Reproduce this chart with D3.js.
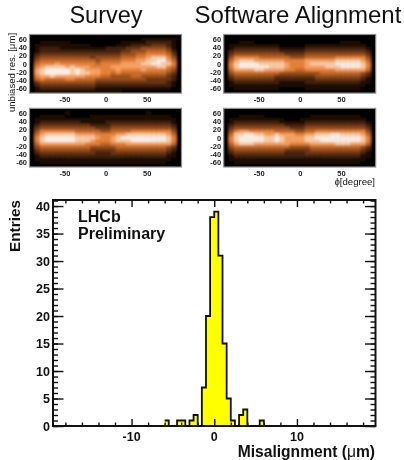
<!DOCTYPE html>
<html>
<head>
<meta charset="utf-8">
<script src="https://cdn.jsdelivr.net/npm/d3@7/dist/d3.min.js"></script>
<style>
  html, body { margin: 0; padding: 0; background: #fff; }
  svg { display: block; opacity: 0.999; }
  text { font-family: "Liberation Sans", Arial, sans-serif; fill: #111; }
</style>
</head>
<body>
<script>
// histogram
const binEdges = [-6, -5.5, -5, -4.5, -4, -3.5, -3, -2.5, -2, -1.5, -1, -0.5, 0, 0.5, 1, 1.5, 2, 2.5, 3, 3.5, 4, 4.5, 5, 5.5, 6];
const binCounts = [1, 0, 0, 1, 1, 0, 1, 2, 0, 7, 20, 38, 39, 31, 15, 5, 1, 0, 2, 3, 0, 0, 0, 1];

const yMajor = [0, 5, 10, 15, 20, 25, 30, 35, 40];
const yMinor = d3.range(0, 42);
const xMajor = [-10, 0, 10];
const xMinor = [-18, -16, -14, -12, -8, -6, -4, -2, 2, 4, 6, 8, 12, 14, 16, 18];

// heat maps: one digit per cell, 0 dark to 9 white, top row first
const surveyTop = [
  "00000 00000 00000 00000 00000 00000",
  "00000 00000 00000 00000 00111 11110",
  "00111 11100 00000 00011 11122 22210",
  "01111 11111 11000 00111 22223 33210",
  "01222 21111 11111 22223 33444 44310",
  "01222 22222 22222 22233 44455 55420",
  "02333 33333 33333 33344 45566 66530",
  "03444 44444 44344 44455 56678 88640",
  "04555 55555 55545 55566 67788 99750",
  "05666 76666 66656 66677 77889 98860",
  "06788 88787 77666 67777 77777 88650",
  "07899 99989 87776 66766 66766 66540",
  "07899 99989 88776 65655 55555 55430",
  "06778 77777 76665 54444 55444 44320",
  "05655 55665 55544 44444 44433 33320",
  "03444 44444 44433 33333 33333 33210",
  "02333 33333 33322 22222 22222 22210",
  "01222 22222 22211 11111 11111 11100",
  "01111 11111 11111 11100 00000 00000"
];
const surveyBottom = [
  "00000 00000 00000 00000 00000 00000",
  "00000 00100 00000 00000 00010 00000",
  "00111 11000 00111 11111 11111 11100",
  "01111 11111 11111 11111 11111 11110",
  "01222 22222 11111 22222 22222 22210",
  "02333 33333 33222 23333 33333 33320",
  "03444 44444 44433 34444 44444 44430",
  "04666 66665 55554 45555 66666 66640",
  "05788 88887 77766 66778 88888 88750",
  "06899 99998 88876 67899 99999 99860",
  "06899 99998 88766 67888 99999 99860",
  "05777 77777 76665 56667 77777 77750",
  "04555 55555 55444 44555 55555 55430",
  "03444 44444 44333 33444 44444 44320",
  "02333 33333 33322 23333 33333 33210",
  "01222 22222 22222 22222 22222 22110",
  "01111 11111 11111 11111 11111 11100",
  "00111 11111 11111 11111 11111 11000",
  "00000 00000 00000 00000 00000 00000"
];
const softwareTop = [
  "00000 00000 00000 00000 00000 00000",
  "00000 00000 00000 00000 00000 00000",
  "00011 10000 00000 00000 00011 11000",
  "01111 11111 10000 01111 11111 11100",
  "01222 22222 21111 12222 22222 22210",
  "02333 33333 32222 23333 33333 33320",
  "03444 44444 44333 34444 44444 44430",
  "04666 66555 55544 45555 55666 66640",
  "05788 87777 77666 67777 77888 88750",
  "06899 99888 88766 67888 88999 99860",
  "06899 99998 88766 67777 88899 99860",
  "05777 78877 77665 56666 66777 77750",
  "04555 55555 54444 44445 55555 55430",
  "03444 44444 33333 33344 44444 44320",
  "02333 33333 22222 22233 33333 33210",
  "01222 22222 21111 12222 22222 22110",
  "01111 11111 11111 11111 11111 11100",
  "00111 11111 10000 01111 11111 11000",
  "00000 00000 00000 00000 00000 00000"
];
const softwareBottom = [
  "00000 00000 00000 00000 00000 00000",
  "00000 00000 00000 00000 00000 00000",
  "00011 11100 00000 00111 11111 11000",
  "01111 11111 11000 11111 11111 11100",
  "01222 22222 21111 12222 22222 22210",
  "02333 33333 33222 23333 33333 33320",
  "03444 44444 44433 34444 44444 44430",
  "04677 66666 55554 45566 66666 66640",
  "05889 98877 87776 67788 89988 88750",
  "06899 99988 98777 78899 99999 99860",
  "06899 99988 98777 78889 99999 99860",
  "05788 87777 77766 66777 77888 77750",
  "04555 55555 55544 44555 55555 55430",
  "03444 44444 44333 33444 44444 44320",
  "02333 33333 33222 23333 33333 33210",
  "01222 22222 22222 22222 22222 22110",
  "01111 11111 11111 11111 11111 11100",
  "00111 11111 11111 11111 11111 11000",
  "00000 00000 00000 00000 00000 00000"
];

const phiTicks = [-50, 0, 50];
const resTicks = [60, 40, 20, 0, -20, -40, -60];
const heatColors = ["#060100", "#1e0e04", "#40200c", "#6b3614", "#99501e", "#c76a2a", "#ea843a", "#f9a566", "#fdd0ac", "#fff2e8"];

const panels = [
  { id: "a", cells: surveyTop, x0: 29.5, y0: 34.5 },
  { id: "b", cells: softwareTop, x0: 223.7, y0: 34.5 },
  { id: "c", cells: surveyBottom, x0: 29.5, y0: 108.4 },
  { id: "d", cells: softwareBottom, x0: 223.7, y0: 108.4 }
];
const panelW = 152;
const panelH = 58.6;

const svg = d3.select("body").append("svg")
  .attr("width", 404)
  .attr("height", 460);

const defs = svg.append("defs");
defs.append("filter")
  .attr("id", "soft")
  .attr("x", "-5%").attr("y", "-5%").attr("width", "110%").attr("height", "110%")
  .append("feGaussianBlur")
  .attr("stdDeviation", 0.8);

const heatScale = d3.scaleLinear().domain(d3.range(10)).range(heatColors);

panels.forEach(p => {
  const rows = p.cells.map(r => r.replace(/ /g, "").split("").map(Number));
  const xBand = d3.scaleBand().domain(d3.range(rows[0].length)).range([0, panelW]);
  const yBand = d3.scaleBand().domain(d3.range(rows.length)).range([0, panelH]);
  const phi = d3.scaleLinear().domain([-92.5, 92.3]).range([0, panelW]);
  const res = d3.scaleLinear().domain([-71, 71]).range([panelH, 0]);

  const g = svg.append("g").attr("transform", `translate(${p.x0},${p.y0})`);

  defs.append("clipPath").attr("id", "clip-" + p.id)
    .append("rect").attr("width", panelW).attr("height", panelH);

  g.append("rect").attr("width", panelW).attr("height", panelH).attr("fill", heatColors[0]);

  g.append("g").attr("clip-path", `url(#clip-${p.id})`)
    .append("g").attr("filter", "url(#soft)")
    .selectAll("g")
    .data(rows)
    .join("g")
    .attr("transform", (d, i) => `translate(0,${yBand(i)})`)
    .selectAll("rect")
    .data(d => d)
    .join("rect")
    .attr("x", (d, i) => xBand(i))
    .attr("width", xBand.bandwidth() + 0.4)
    .attr("height", yBand.bandwidth() + 0.4)
    .attr("fill", d => heatScale(d));

  g.append("rect").attr("width", panelW).attr("height", panelH)
    .attr("fill", "none").attr("stroke", "#8f8f8f").attr("stroke-width", 1.2);

  const xAxis = g.append("g").attr("transform", `translate(0,${panelH})`)
    .call(d3.axisBottom(phi).tickValues(phiTicks).tickFormat(d => d).tickSize(0).tickPadding(4));
  const yAxis = g.append("g")
    .call(d3.axisLeft(res).tickValues(resTicks).tickFormat(d => d).tickSize(0).tickPadding(2.5));
  [xAxis, yAxis].forEach(a => {
    a.select(".domain").remove();
    a.selectAll("text").attr("font-size", 7.5).attr("font-weight", 700)
      .style("font-family", '"Liberation Sans", Arial, sans-serif').style("fill", "#222");
  });
});

svg.append("text").attr("x", 106).attr("y", 23).attr("text-anchor", "middle")
  .attr("font-size", 23.5).text("Survey");
svg.append("text").attr("x", 298).attr("y", 23).attr("text-anchor", "middle")
  .attr("font-size", 24).text("Software Alignment");

svg.append("text")
  .attr("transform", "translate(15,72.5) rotate(-90)")
  .attr("text-anchor", "middle")
  .attr("font-size", 9.6)
  .text("unbiased res. [\u03bcm]");
svg.append("text").attr("x", 375).attr("y", 185).attr("text-anchor", "end")
  .attr("font-size", 9.6).text("\u03d5[degree]");

// bottom histogram
const margin = { top: 200, bottom: 34, left: 53, right: 28.5 };
const width = 404 - margin.left - margin.right;
const height = 460 - margin.top - margin.bottom;

const g = svg.append("g").attr("transform", `translate(${margin.left},${margin.top})`);

const xscale = d3.scaleLinear().domain([-19.5, 19.5]).range([0, width]);
const yscale = d3.scaleLinear().domain([0, 41.1]).range([height, 0]);

const histData = binCounts.map((c, i) => ({ x: binEdges[i], c: c }));
histData.push({ x: binEdges[binEdges.length - 1], c: 0 });

g.append("path")
  .datum(histData)
  .attr("fill", "#ffff00")
  .attr("d", d3.area().x(d => xscale(d.x)).y0(height).y1(d => yscale(d.c)).curve(d3.curveStepAfter));
g.append("path")
  .datum(histData)
  .attr("fill", "none")
  .attr("stroke", "#111")
  .attr("stroke-width", 1.8)
  .attr("d", d3.line().x(d => xscale(d.x)).y(d => yscale(d.c)).curve(d3.curveStepAfter));

function tickAxis(axis, size, values, transform) {
  const a = g.append("g").attr("transform", transform)
    .call(axis.tickValues(values).tickSize(size).tickFormat(""));
  a.select(".domain").remove();
  a.selectAll("line").attr("stroke", "#111").attr("stroke-width", 1.4);
}

tickAxis(d3.axisLeft(yscale), -5, yMinor, "translate(0,0)");
tickAxis(d3.axisLeft(yscale), -10.5, yMajor, "translate(0,0)");
tickAxis(d3.axisRight(yscale), -5, yMinor, `translate(${width},0)`);
tickAxis(d3.axisRight(yscale), -10.5, yMajor, `translate(${width},0)`);
tickAxis(d3.axisBottom(xscale), -3.5, xMinor, `translate(0,${height})`);
tickAxis(d3.axisBottom(xscale), -7, xMajor, `translate(0,${height})`);
tickAxis(d3.axisTop(xscale), -3.5, xMinor, "translate(0,0)");
tickAxis(d3.axisTop(xscale), -7, xMajor, "translate(0,0)");

g.append("rect").attr("width", width).attr("height", height)
  .attr("fill", "none").attr("stroke", "#111").attr("stroke-width", 2);

g.selectAll(".ylab").data(yMajor).join("text")
  .attr("class", "ylab")
  .attr("x", -3).attr("y", d => yscale(d) + 4.5)
  .attr("text-anchor", "end").attr("font-size", 12.5).attr("font-weight", 700)
  .text(d => d);
g.selectAll(".xlab").data(xMajor).join("text")
  .attr("class", "xlab")
  .attr("x", d => xscale(d)).attr("y", 240.5)
  .attr("text-anchor", "middle").attr("font-size", 12.5).attr("font-weight", 700)
  .text(d => d);

svg.append("text").attr("x", 78).attr("y", 221.7).attr("font-size", 16).attr("font-weight", 700).text("LHCb");
svg.append("text").attr("x", 78).attr("y", 239).attr("font-size", 16).attr("font-weight", 700).text("Preliminary");

svg.append("text")
  .attr("transform", "translate(20,226) rotate(-90)")
  .attr("text-anchor", "middle").attr("font-size", 15.3).attr("font-weight", 700)
  .text("Entries");

const xlabel = svg.append("text").attr("x", 375).attr("y", 457).attr("text-anchor", "end")
  .attr("font-size", 15.6).attr("font-weight", 700);
xlabel.append("tspan").text("Misalignment (");
xlabel.append("tspan").attr("font-weight", 400).text("\u03bc");
xlabel.append("tspan").text("m)");
</script>
</body>
</html>
